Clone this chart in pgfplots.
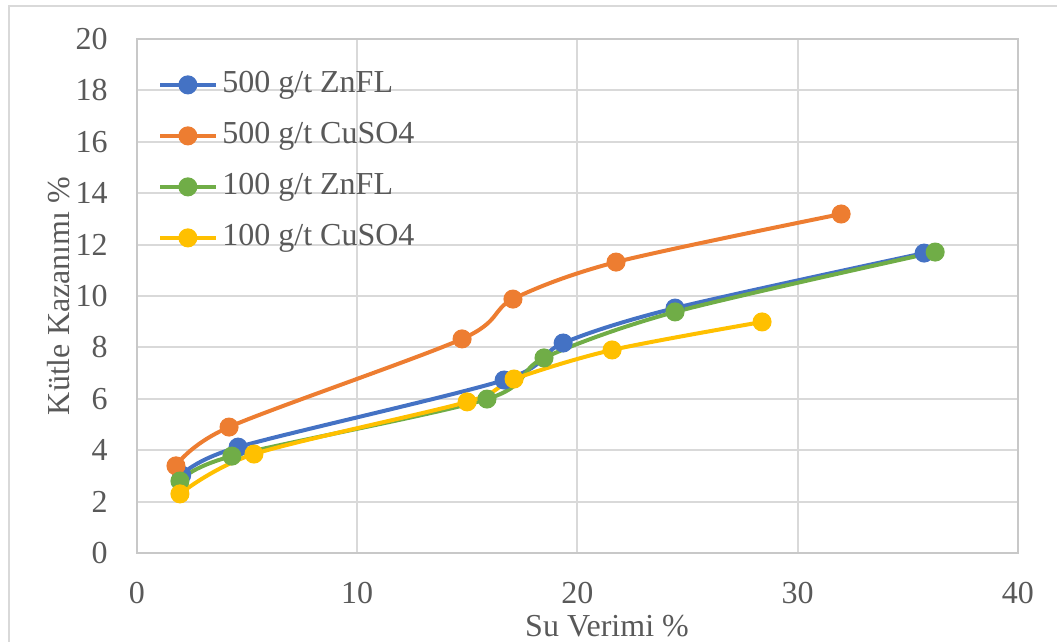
\documentclass[border=0pt]{standalone}
\usepackage{fontspec}
\setmainfont{Liberation Serif}
\usepackage{pgfplots}
\pgfplotsset{compat=1.18}
\definecolor{cBlue}{HTML}{4472C4}
\definecolor{cOrange}{HTML}{ED7D31}
\definecolor{cGreen}{HTML}{70AD47}
\definecolor{cYellow}{HTML}{FFC000}
\definecolor{cGrid}{HTML}{D9D9D9}
\definecolor{cAxis}{HTML}{C8C8C8}
\definecolor{cText}{HTML}{595959}
\begin{document}
\begin{tikzpicture}[font=\fontsize{16}{19.2}\selectfont]
\useasboundingbox (0,0) rectangle (528.5pt,321pt);
\draw[cGrid, line width=1pt] (4.5pt,-2pt) -- (4.5pt,318pt) -- (530pt,318pt);
\begin{axis}[
  at={(68.5pt,44.5pt)}, anchor=south west,
  scale only axis, width=440.5pt, height=257pt,
  xmin=0, xmax=40, ymin=0, ymax=20,
  xtick={0,10,20,30,40}, ytick={0,2,...,20},
  major tick length=0pt,
  grid=major,
  major grid style={cGrid, line width=1pt},
  axis line style={cAxis, line width=1pt},
  /pgf/number format/assume math mode=true,
  tick label style={text=cText, font=\fontsize{16}{19.2}\selectfont},
  yticklabel style={anchor=east, inner sep=0pt, xshift=-14.5pt},
  xticklabel style={anchor=north, inner sep=0pt, yshift=-14.5pt},
  xlabel={Su Verimi \%},
  ylabel={Kütle Kazanımı \%},
  label style={text=cText, font=\fontsize{16}{19.2}\selectfont, inner sep=0pt},
  xlabel style={at={(axis description cs:0.5335,-0.1615)}, anchor=base},
  ylabel style={at={(axis description cs:-0.0761,0.5)}, anchor=south},
  every axis plot/.append style={line width=2pt, smooth, tension=0.5, mark=*, mark size=3.75pt, mark options={solid, line width=0pt}},
  legend image code/.code={\draw[mark repeat=2, mark phase=2, #1] plot coordinates {(0pt,0pt) (13.75pt,0pt) (27.5pt,0pt)};},
  legend style={at={(axis description cs:0.0238,0.9397)}, anchor=north west, draw=none, fill=none, inner sep=0pt,
    text=cText, font=\fontsize{16}{19.2}\selectfont, row sep=11pt,
    nodes={inner sep=0pt, text height=11pt, text depth=3.5pt},
    /tikz/every odd column/.append style={column sep=2.5pt}},
  legend cell align=left,
  clip=false,
]
\addplot[cBlue, mark options={fill=cBlue, draw=cBlue}] coordinates {
 (2.03,3.03) (4.59,4.12) (16.67,6.73) (19.35,8.17) (24.43,9.53) (35.74,11.67)};
\addlegendentry{500 g/t ZnFL}
\addplot[cOrange, mark options={fill=cOrange, draw=cOrange}] coordinates {
 (1.77,3.39) (4.18,4.90) (14.76,8.33) (17.07,9.88) (21.75,11.32) (31.97,13.19)};
\addlegendentry{500 g/t CuSO4}
\addplot[cGreen, mark options={fill=cGreen, draw=cGreen}] coordinates {
 (1.95,2.80) (4.31,3.77) (15.89,5.99) (18.48,7.59) (24.43,9.38) (36.24,11.71)};
\addlegendentry{100 g/t ZnFL}
\addplot[cYellow, mark options={fill=cYellow, draw=cYellow}] coordinates {
 (1.95,2.30) (5.31,3.85) (14.99,5.88) (17.12,6.77) (21.57,7.90) (28.38,8.99)};
\addlegendentry{100 g/t CuSO4}
\end{axis}
\end{tikzpicture}
\end{document}
